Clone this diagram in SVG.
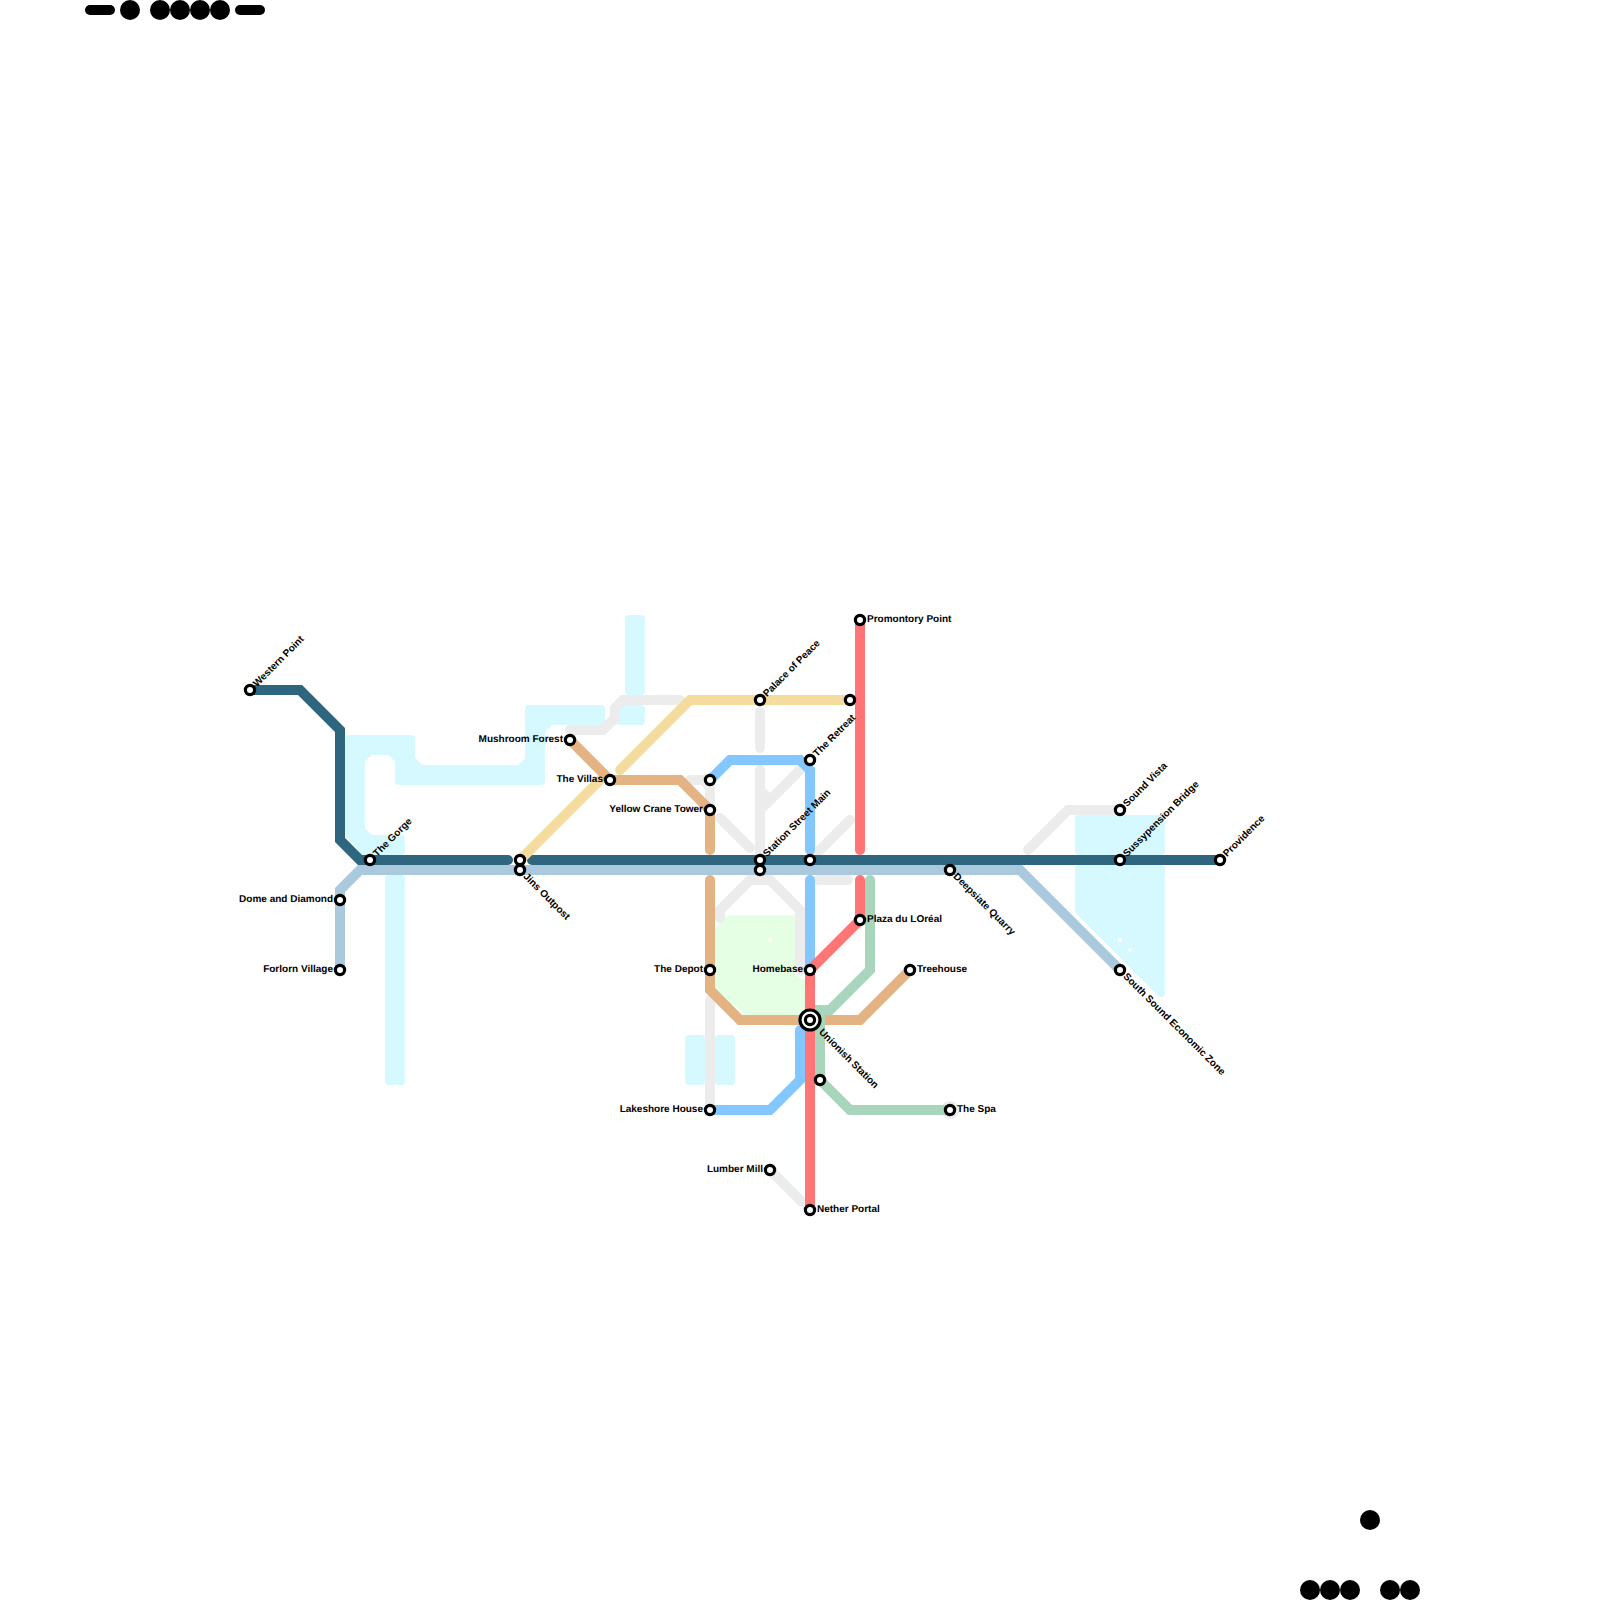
<svg xmlns="http://www.w3.org/2000/svg" width="1600" height="1600" viewBox="0 0 1600 1600">
<style>
.w{fill:#d5f9ff;stroke:#d5f9ff;stroke-width:8;stroke-linejoin:round}
.l{fill:none;stroke-width:10;stroke-linecap:round;stroke-linejoin:miter}
.grey{stroke:#ececec}.dark{stroke:#2e6680}.pale{stroke:#abc9dd}.blue{stroke:#82c7ff}.red{stroke:#ff7575}.green{stroke:#a8d5bb}.orange{stroke:#e3b384}.yellow{stroke:#f4dc9e}
.s{fill:#fff;stroke:#000;stroke-width:3.2}
text{font-family:"Liberation Sans",Arial,sans-serif;font-size:10px;font-weight:700;fill:#000;text-rendering:geometricPrecision}
.e{text-anchor:end}
.b{fill:#000}
</style>
<g id="backdrop">
<polygon class="w" points="349,739 411,739 411,759 421,769 520,769 529,760 529,709 601,709 601,721 550,721 541,731 541,781 399,781 399,760 390,751 370,751 361,760 361,830 370,839 401,839 401,851 364,851 349,833"/>
<rect class="w" x="389" y="879" width="12" height="202"/>
<rect class="w" x="629" y="619" width="12" height="72"/>
<rect class="w" x="619" y="709" width="22" height="12"/>
<rect class="w" x="689" y="1039" width="12" height="42"/>
<rect class="w" x="719" y="1039" width="12" height="42"/>
<rect class="w" x="1079" y="819" width="82" height="32"/>
<polygon class="w" points="1079,869 1161,869 1161,993 1079,911"/>
<polygon points="727,915 795,915 795,975 805,980 805,1015 745,1015 735,1005 728,1005 715,992 715,928" fill="#e5ffe5"/>
<polygon points="770,937.5 772.5,940 770,942.5 767.5,940" fill="#fff"/>
<polygon points="1120,937.5 1122.5,940 1120,942.5 1117.5,940" fill="#fff"/>
<polygon points="1130,947.5 1132.5,950 1130,952.5 1127.5,950" fill="#fff"/>
</g>
<g id="connectors">
<circle cx="950" cy="1110" r="9" fill="#ececec"/>
<path class="l grey" d="M570,730H603L615,718V708L623,700H680"/>
<path class="l grey" d="M690,780H703L710,787V810"/>
<path class="l grey" d="M720,818L750,848"/>
<path class="l grey" d="M760,712V748"/>
<path class="l grey" d="M760,770V855"/>
<path class="l grey" d="M800,770L760,810"/>
<path class="l grey" d="M760,790L770,800"/>
<path class="l grey" d="M850,820L815,855"/>
<path class="l grey" d="M818,880H848"/>
<path class="l grey" d="M750,880H770"/>
<path class="l grey" d="M760,870L720,910V918"/>
<path class="l grey" d="M760,870L800,910V970"/>
<path class="l grey" d="M710,1000V1105"/>
<path class="l grey" d="M770,1170L802,1202"/>
<path class="l grey" d="M1028,850L1068,810H1120"/>
<path class="l pale" d="M340,970V890L360,870H1020L1120,970"/>
<path class="l dark" d="M250,690H300L340,730V840L360,860H508"/>
<path class="l dark" d="M532,860H1220"/>
<path class="l yellow" d="M520,860L600,780"/>
<path class="l yellow" d="M620,770L690,700H850"/>
<path class="l orange" d="M570,740L610,780H680L710,810V850"/>
<path class="l orange" d="M710,880V990L740,1020H860L910,970"/>
<path class="l green" d="M870,880V970L830,1010H820V1080L850,1110H950"/>
<path class="l blue" d="M710,780L730,760H800L810,770V850"/>
<path class="l blue" d="M810,880V965"/>
<path class="l blue" d="M800,1030V1080L770,1110H710"/>
<path class="l red" d="M860,620V850"/>
<path class="l red" d="M860,880V920L810,970V1210"/>
</g>
<g id="n-western"><circle class="s" cx="250" cy="690" r="4.6"/><text transform="translate(250,690) rotate(-45) translate(7,3)">Western Point</text></g>
<g id="n-gorge"><circle class="s" cx="370" cy="860" r="4.6"/><text transform="translate(370,860) rotate(-45) translate(7,3)">The Gorge</text></g>
<g id="n-jins-a"><circle class="s" cx="520" cy="860" r="4.6"/></g>
<g id="n-jins"><circle class="s" cx="520" cy="870" r="4.6"/><text transform="translate(520,870) rotate(45) translate(7,3)">Jins Outpost</text></g>
<g id="n-dome"><circle class="s" cx="340" cy="900" r="4.6"/><text class="e" x="333" y="902.4">Dome and Diamond</text></g>
<g id="n-forlorn"><circle class="s" cx="340" cy="970" r="4.6"/><text class="e" x="333" y="972.4">Forlorn Village</text></g>
<g id="n-mushroom"><circle class="s" cx="570" cy="740" r="4.6"/><text class="e" x="563" y="742.4">Mushroom Forest</text></g>
<g id="n-villas"><circle class="s" cx="610" cy="780" r="4.6"/><text class="e" x="603" y="782.4">The Villas</text></g>
<g id="n-710-780"><circle class="s" cx="710" cy="780" r="4.6"/></g>
<g id="n-yellowcrane"><circle class="s" cx="710" cy="810" r="4.6"/><text class="e" x="703" y="812.4">Yellow Crane Tower</text></g>
<g id="n-depot"><circle class="s" cx="710" cy="970" r="4.6"/><text class="e" x="703" y="972.4">The Depot</text></g>
<g id="n-lakeshore"><circle class="s" cx="710" cy="1110" r="4.6"/><text class="e" x="703" y="1112.4">Lakeshore House</text></g>
<g id="n-palace"><circle class="s" cx="760" cy="700" r="4.6"/><text transform="translate(760,700) rotate(-45) translate(7,3)">Palace of Peace</text></g>
<g id="n-850-700"><circle class="s" cx="850" cy="700" r="4.6"/></g>
<g id="n-retreat"><circle class="s" cx="810" cy="760" r="4.6"/><text transform="translate(810,760) rotate(-45) translate(7,3)">The Retreat</text></g>
<g id="n-station-street"><circle class="s" cx="760" cy="860" r="4.6"/><text transform="translate(760,860) rotate(-45) translate(7,3)">Station Street Main</text></g>
<g id="n-760-870"><circle class="s" cx="760" cy="870" r="4.6"/></g>
<g id="n-810-860"><circle class="s" cx="810" cy="860" r="4.6"/></g>
<g id="n-promontory"><circle class="s" cx="860" cy="620" r="4.6"/><text x="867" y="622.4">Promontory Point</text></g>
<g id="n-plaza"><circle class="s" cx="860" cy="920" r="4.6"/><text x="867" y="922.4">Plaza du LOréal</text></g>
<g id="n-homebase"><circle class="s" cx="810" cy="970" r="4.6"/><text class="e" x="803" y="972.4">Homebase</text></g>
<g id="n-unionish"><circle class="s" cx="810" cy="1020" r="10"/><circle class="s" cx="810" cy="1020" r="4.6"/><text transform="translate(810,1020) rotate(45) translate(15,3)">Unionish Station</text></g>
<g id="n-820-1080"><circle class="s" cx="820" cy="1080" r="4.6"/></g>
<g id="n-spa"><circle class="s" cx="950" cy="1110" r="4.6"/><text x="957" y="1112.4">The Spa</text></g>
<g id="n-treehouse"><circle class="s" cx="910" cy="970" r="4.6"/><text x="917" y="972.4">Treehouse</text></g>
<g id="n-lumber"><circle class="s" cx="770" cy="1170" r="4.6"/><text class="e" x="763" y="1172.4">Lumber Mill</text></g>
<g id="n-nether"><circle class="s" cx="810" cy="1210" r="4.6"/><text x="817" y="1212.4">Nether Portal</text></g>
<g id="n-deepsiate"><circle class="s" cx="950" cy="870" r="4.6"/><text transform="translate(950,870) rotate(45) translate(7,3)">Deepsiate Quarry</text></g>
<g id="n-soundvista"><circle class="s" cx="1120" cy="810" r="4.6"/><text transform="translate(1120,810) rotate(-45) translate(7,3)">Sound Vista</text></g>
<g id="n-sussy"><circle class="s" cx="1120" cy="860" r="4.6"/><text transform="translate(1120,860) rotate(-45) translate(7,3)">Sussypension Bridge</text></g>
<g id="n-southsound"><circle class="s" cx="1120" cy="970" r="4.6"/><text transform="translate(1120,970) rotate(45) translate(7,3)">South Sound Economic Zone</text></g>
<g id="n-providence"><circle class="s" cx="1220" cy="860" r="4.6"/><text transform="translate(1220,860) rotate(-45) translate(7,3)">Providence</text></g>
<g id="marks">
<rect class="b" x="85" y="5" width="30" height="10" rx="5"/>
<circle class="b" cx="130" cy="10" r="10"/><circle class="b" cx="160" cy="10" r="10"/><circle class="b" cx="180" cy="10" r="10"/><circle class="b" cx="200" cy="10" r="10"/><circle class="b" cx="220" cy="10" r="10"/>
<rect class="b" x="235" y="5" width="30" height="10" rx="5"/>
<circle class="b" cx="1370" cy="1520" r="10"/>
<circle class="b" cx="1310" cy="1590" r="10"/><circle class="b" cx="1330" cy="1590" r="10"/><circle class="b" cx="1350" cy="1590" r="10"/><circle class="b" cx="1390" cy="1590" r="10"/><circle class="b" cx="1410" cy="1590" r="10"/>
</g>
</svg>
